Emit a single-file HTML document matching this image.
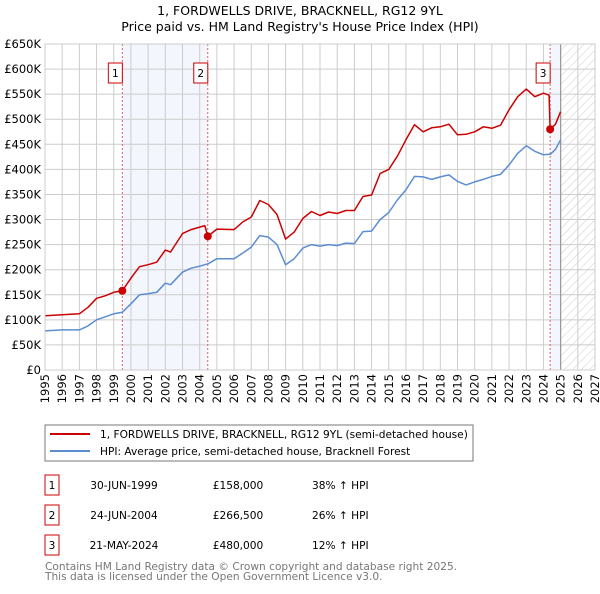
<!DOCTYPE html>
<html><head><meta charset="utf-8"><style>
body{margin:0;background:#fff;font-family:"DejaVu Sans","Liberation Sans",sans-serif;}
svg text{font-family:"DejaVu Sans","Liberation Sans",sans-serif;}
</style></head><body>
<svg id="c" width="600" height="590" xmlns="http://www.w3.org/2000/svg">
<defs><pattern id="hatch" width="6" height="6" patternUnits="userSpaceOnUse" patternTransform="rotate(45)"><line x1="0" y1="0" x2="0" y2="6" stroke="#ccc" stroke-width="1"/></pattern></defs>
<text x="300" y="15" text-anchor="middle" font-size="12.5">1, FORDWELLS DRIVE, BRACKNELL, RG12 9YL</text>
<text x="300" y="31" text-anchor="middle" font-size="12.5">Price paid vs. HM Land Registry's House Price Index (HPI)</text>
<g id="plot"></g>
<rect x="45" y="425" width="428" height="36" fill="none" stroke="#777"/>
<line x1="50" y1="434" x2="90" y2="434" stroke="#cc0000" stroke-width="2"/>
<text x="100" y="438" font-size="10.6">1, FORDWELLS DRIVE, BRACKNELL, RG12 9YL (semi-detached house)</text>
<line x1="50" y1="451" x2="90" y2="451" stroke="#5b8dd0" stroke-width="2"/>
<text x="100" y="455" font-size="10.6">HPI: Average price, semi-detached house, Bracknell Forest</text>
<g id="table" font-size="10.6"></g>
<text x="45" y="570" font-size="10.6" fill="#777">Contains HM Land Registry data © Crown copyright and database right 2025.</text>
<text x="45" y="580" font-size="10.6" fill="#777">This data is licensed under the Open Government Licence v3.0.</text>
</svg>
<script>
const hpiYears=[1995,1996,1997,1997.5,1998,1998.5,1999,1999.5,2000,2000.5,2001,2001.5,2002,2002.3,2003,2003.5,2004,2004.5,2005,2006,2006.5,2007,2007.5,2008,2008.5,2009,2009.5,2010,2010.5,2011,2011.5,2012,2012.5,2013,2013.5,2014,2014.5,2015,2015.5,2016,2016.5,2017,2017.5,2018,2018.5,2019,2019.5,2020,2020.5,2021,2021.5,2022,2022.5,2023,2023.5,2024,2024.4,2024.7,2025];
const hpiValues=[78,80,80,88,100,106,112,115,132,150,152,155,173,170,195,203,207,212,222,222,233,245,268,265,250,210,222,243,250,247,250,248,253,252,276,277,300,314,339,359,386,385,380,385,389,376,369,375,380,386,390,409,432,447,436,429,430,440,459];
const priceYears=[1995,1996,1997,1997.5,1998,1998.5,1999,1999.5,2000,2000.5,2001,2001.5,2002,2002.3,2003,2003.5,2004,2004.3,2004.47,2005,2006,2006.5,2007,2007.5,2008,2008.5,2009,2009.5,2010,2010.5,2011,2011.5,2012,2012.5,2013,2013.5,2014,2014.5,2015,2015.5,2016,2016.5,2017,2017.5,2018,2018.5,2019,2019.5,2020,2020.5,2021,2021.5,2022,2022.5,2023,2023.5,2024,2024.33,2024.39,2024.7,2025];
const priceValues=[108,110,112,125,143,148,155,158,183,206,210,215,239,235,272,280,285,288,266.5,281,280,295,305,338,330,310,261,275,302,316,308,315,312,318,318,346,349,392,400,426,459,489,475,483,485,490,469,470,475,485,482,488,519,545,560,545,552,548,480,490,515];
const saleLabels=["1","2","3"];
const saleYears=[1999.5,2004.47,2024.39];
const saleValues=[158,266.5,480];
const saleDates=["30-JUN-1999","24-JUN-2004","21-MAY-2024"];
const salePrices=["£158,000","£266,500","£480,000"];
const saleDiffs=["38% ↑ HPI","26% ↑ HPI","12% ↑ HPI"];
const yTicks=[0,50,100,150,200,250,300,350,400,450,500,550,600,650];
const yTickLabels=["£0","£50K","£100K","£150K","£200K","£250K","£300K","£350K","£400K","£450K","£500K","£550K","£600K","£650K"];
const xTicks=[1995,1996,1997,1998,1999,2000,2001,2002,2003,2004,2005,2006,2007,2008,2009,2010,2011,2012,2013,2014,2015,2016,2017,2018,2019,2020,2021,2022,2023,2024,2025,2026,2027];

const NS="http://www.w3.org/2000/svg";
const X0=45,X1=595,Y0=370,Y1=44;
const xs=y=>X0+(y-1995)/(2027-1995)*(X1-X0);
const ys=v=>Y0-v/650*(Y0-Y1);
const plot=document.getElementById('plot');
function mk(tag,attrs,parent){const e=document.createElementNS(NS,tag);for(const k in attrs)e.setAttribute(k,attrs[k]);(parent||plot).appendChild(e);return e;}

let e;
e=mk('rect',{x:xs(saleYears[0]),y:Y1,width:xs(saleYears[1])-xs(saleYears[0]),height:Y0-Y1,fill:'#f3f6fd'});


e=mk('rect',{x:xs(saleYears[2]),y:Y1,width:xs(2025)-xs(saleYears[2]),height:Y0-Y1,fill:'#f3f6fd'});


e=mk('rect',{x:xs(2025),y:Y1,width:X1-xs(2025),height:Y0-Y1,fill:'url(#hatch)'});


yTicks.forEach((t,i)=>{
  e=mk('line',{x1:X0,x2:X1,y1:ys(t),y2:ys(t),stroke:'#ccc','stroke-width':1});
  
  
  e=mk('text',{x:X0-4,y:ys(t)+4,'text-anchor':'end','font-size':11.5});
  e.textContent=yTickLabels[i];
  
  
});
xTicks.forEach(t=>{
  e=mk('line',{x1:xs(t),x2:xs(t),y1:Y1,y2:Y0,stroke:'#ccc','stroke-width':1});
  
  
  e=mk('text',{x:0,y:0,'text-anchor':'end','font-size':11.5,transform:`translate(${xs(t)+4},374) rotate(-90)`});
  e.textContent=t;
  
  
});
e=mk('line',{x1:xs(2025),x2:xs(2025),y1:Y1,y2:Y0,stroke:'#999','stroke-width':1.2});


saleYears.forEach((y,i)=>{
  e=mk('line',{x1:xs(y),x2:xs(y),y1:Y1,y2:Y0,stroke:'#e06060','stroke-width':1,'stroke-dasharray':'2,2'});
  
  
});
function path(xa,va,color,name){
  const d=xa.map((x,i)=>(i?'L':'M')+xs(x).toFixed(1)+','+ys(va[i]).toFixed(1)).join('');
  const p=mk('path',{d:d,fill:'none',stroke:color,'stroke-width':1.5,'stroke-linejoin':'round'});
  
  
}
path(hpiYears,hpiValues,'#5b8dd0','hpi-line');
path(priceYears,priceValues,'#cc0000','price-line');
saleYears.forEach((y,i)=>{
  e=mk('circle',{cx:xs(y),cy:ys(saleValues[i]),r:4,fill:'#cc0000'});
  
  
  e=mk('rect',{x:xs(y)-14,y:63,width:14,height:20,fill:'#fff',stroke:'#cc0000'});
  
  
  e=mk('text',{x:xs(y)-7,y:77,'text-anchor':'middle','font-size':10.6});
  e.textContent=saleLabels[i];
  
  
});
e=mk('rect',{x:X0,y:Y1,width:X1-X0,height:Y0-Y1,fill:'none',stroke:'#ccc'});



const tbl=document.getElementById('table');
saleLabels.forEach((l,i)=>{
  const y=475+i*30;
  e=mk('rect',{x:45,y:y,width:14,height:20,fill:'none',stroke:'#cc0000'},tbl);
  
  
  const cols=[[52,l,'middle'],[124,saleDates[i],'middle'],[238,salePrices[i],'middle'],[312,saleDiffs[i],'start']];
  cols.forEach(c=>{
    e=mk('text',{x:c[0],y:y+14,'text-anchor':c[2],'font-size':10.6},tbl);
    e.textContent=c[1];
    
    
  });
});
</script>
</body></html>
